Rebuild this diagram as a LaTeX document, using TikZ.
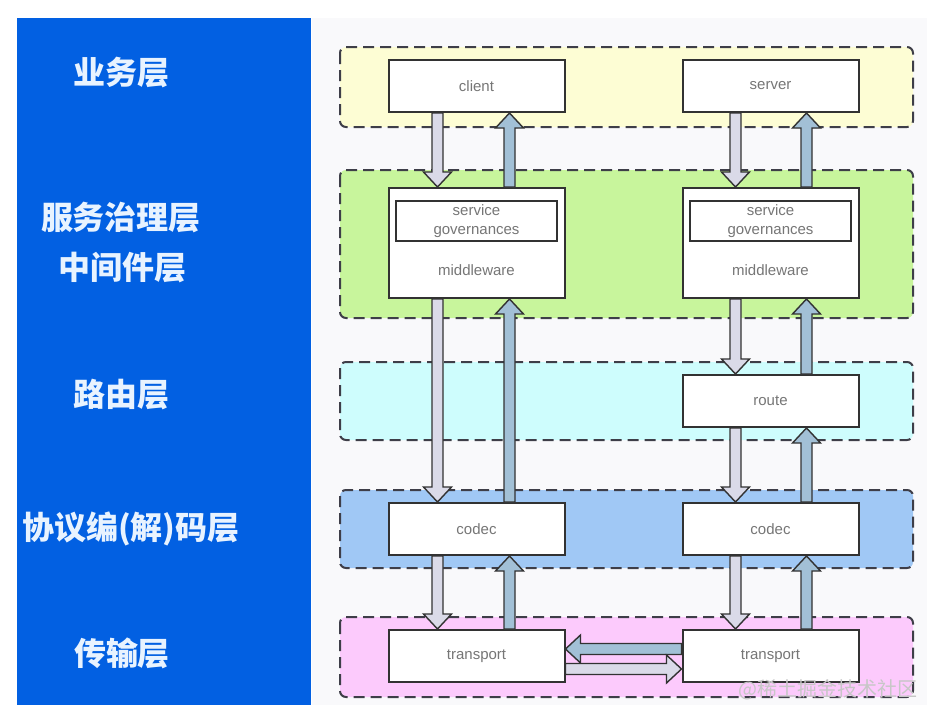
\documentclass[tikz,border=0pt]{standalone}
\usepackage{fontspec}
\setmainfont{Liberation Sans}
\newfontfamily\cjk{Noto Sans CJK SC}
\usetikzlibrary{positioning,calc}
\definecolor{ink}{RGB}{50,50,50}
\definecolor{dashink}{RGB}{62,62,72}
\definecolor{boxtext}{RGB}{118,118,118}
\definecolor{panel}{RGB}{2,96,226}
\definecolor{paper}{RGB}{249,249,251}
\definecolor{tagtext}{RGB}{232,243,255}
\definecolor{bizfill}{RGB}{253,253,212}
\definecolor{govfill}{RGB}{200,245,156}
\definecolor{routefill}{RGB}{206,253,253}
\definecolor{codecfill}{RGB}{160,200,245}
\definecolor{netfill}{RGB}{252,202,252}
\definecolor{reqfill}{RGB}{218,218,232}
\definecolor{respfill}{RGB}{162,192,214}
\tikzset{
  box/.style={draw=ink, line width=2pt, fill=white, minimum width=176pt, minimum height=52pt,
    inner sep=0pt, font=\fontsize{15}{19}\selectfont, text=boxtext},
  mid/.style={box, minimum height=110pt},
  gov/.style={draw=ink, line width=1.8pt, minimum width=161pt, minimum height=40pt, inner sep=0pt,
    align=center, font=\fontsize{15}{19}\selectfont, text=boxtext},
  caption/.style={font=\fontsize{15}{19}\selectfont, text=boxtext, inner sep=0pt},
  tier/.style={draw=dashink, line width=2pt, dash pattern=on 11pt off 6pt, rounded corners=6pt},
  tag/.style={font=\cjk\bfseries\fontsize{32}{36}\selectfont, text=tagtext, inner sep=0pt},
  blockarrow/.style={draw=ink, line width=1.4pt,
    to path={let \p1=(\tikztostart), \p2=(\tikztotarget),
      \n1={atan2(\y2-\y1,\x2-\x1)}, \n2={veclen(\x2-\x1,\y2-\y1)} in
      ([shift={(\p1)},rotate=\n1]0pt,-5.5pt) -- ([shift={(\p1)},rotate=\n1]\n2*1pt-15pt,-5.5pt)
      -- ([shift={(\p1)},rotate=\n1]\n2*1pt-15pt,-14pt) -- ([shift={(\p1)},rotate=\n1]\n2*1pt,0pt)
      -- ([shift={(\p1)},rotate=\n1]\n2*1pt-15pt,14pt) -- ([shift={(\p1)},rotate=\n1]\n2*1pt-15pt,5.5pt)
      -- ([shift={(\p1)},rotate=\n1]0pt,5.5pt) -- cycle}},
  req/.style={blockarrow, fill=reqfill},
  resp/.style={blockarrow, fill=respfill},
}
\begin{document}
\begin{tikzpicture}[x=1pt, y=-1pt]
  \useasboundingbox (0,0) rectangle (927,705);
  % left panel with the layer names, light sheet for the stack
  \fill[panel] (17,18) rectangle (311,705);
  \fill[paper] (312,18) rectangle (927,705);
  \draw[tier, fill=bizfill] (340,47) rectangle (913,127);
  \draw[tier, fill=govfill] (340,170) rectangle (913,318);
  \draw[tier, fill=routefill] (340,362) rectangle (913,440);
  \draw[tier, fill=codecfill] (340,490) rectangle (913,568);
  \draw[tier, fill=netfill] (340,617) rectangle (913,697);

  \node[tag] (biz) at (121,73) {业务层};
  \node[tag] (svcgov) at (121,218) {服务治理层};
  \node[tag] (midware) at (122,268) {中间件层};
  \node[tag] (routing) at (121,395) {路由层};
  \node[tag] (codecs) at (131,529) {协议编(解)码层};
  \node[tag] (net) at (122,653) {传输层};

  % two stacks: caller on the left, callee on the right
  \node[box] (client) at (476.5,86) {client};
  \node[box, right=116pt of client] (server) {server};
  \node[mid, below=74pt of client] (mwL) {};
  \node[mid, below=74pt of server] (mwR) {};
  \node[gov, below=13pt of mwL.north] (govL) {service\\governances};
  \node[gov, below=13pt of mwR.north] (govR) {service\\governances};
  \node[caption] (midL) at ([yshift=29pt]mwL.south) {middleware};
  \node[caption] (midR) at ([yshift=29pt]mwR.south) {middleware};
  \node[box, below=75pt of mwR] (route) {route};
  \node[box, below=74pt of route] (codecR) {codec};
  \node[box, left=116pt of codecR] (codecL) {codec};
  \node[box, below=73pt of codecL] (transL) {transport};
  \node[box, below=73pt of codecR] (transR) {transport};

  \draw[req] ([xshift=-39pt]client.south) to ([xshift=-39pt]mwL.north);
  \draw[resp] ([xshift=33pt]mwL.north) to ([xshift=33pt]client.south);
  \draw[req] ([xshift=-39pt]mwL.south) to ([xshift=-39pt]codecL.north);
  \draw[resp] ([xshift=33pt]codecL.north) to ([xshift=33pt]mwL.south);
  \draw[req] ([xshift=-39pt]codecL.south) to ([xshift=-39pt]transL.north);
  \draw[resp] ([xshift=33pt]transL.north) to ([xshift=33pt]codecL.south);

  \draw[req] ([xshift=-35pt]server.south) to ([xshift=-35pt]mwR.north);
  \draw[resp] ([xshift=36pt]mwR.north) to ([xshift=36pt]server.south);
  \draw[req] ([xshift=-35pt]mwR.south) to ([xshift=-35pt]route.north);
  \draw[resp] ([xshift=36pt]route.north) to ([xshift=36pt]mwR.south);
  \draw[req] ([xshift=-35pt]route.south) to ([xshift=-35pt]codecR.north);
  \draw[resp] ([xshift=36pt]codecR.north) to ([xshift=36pt]route.south);
  \draw[req] ([xshift=-35pt]codecR.south) to ([xshift=-35pt]transR.north);
  \draw[resp] ([xshift=36pt]transR.north) to ([xshift=36pt]codecR.south);

  \draw[resp] ([yshift=7pt]transR.west) to ([yshift=7pt]transL.east);
  \draw[req] ([yshift=-13pt]transL.east) to ([yshift=-13pt]transR.west);

  \node[font=\cjk\fontsize{20}{22}\selectfont, text=black!22, anchor=east] (mark) at (921,690) {@稀土掘金技术社区};
\end{tikzpicture}
\end{document}
